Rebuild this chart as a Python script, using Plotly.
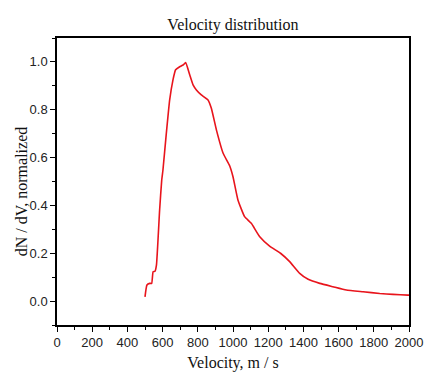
import plotly.graph_objects as go

velocity = [500, 511, 527, 538, 546, 557, 565, 583, 595, 602, 621, 640, 659, 674, 697, 716, 731,
            754, 773, 792, 820, 858, 877, 906, 944, 981, 1000, 1028, 1066, 1104, 1152, 1208, 1270,
            1322, 1379, 1427, 1493, 1568, 1644, 1739, 1834, 1909, 1994, 2000]
density = [0.018, 0.067, 0.074, 0.074, 0.123, 0.125, 0.15, 0.38, 0.506, 0.548, 0.70, 0.84, 0.925,
           0.967, 0.98, 0.987, 0.997, 0.946, 0.904, 0.883, 0.862, 0.841, 0.806, 0.715, 0.618,
           0.566, 0.52, 0.423, 0.353, 0.325, 0.269, 0.23, 0.20, 0.165, 0.116, 0.091, 0.074,
           0.06, 0.046, 0.039, 0.032, 0.028, 0.025, 0.025]

serif = "Liberation Serif, Times New Roman, serif"
sans = "Liberation Sans, Arial, sans-serif"

fig = go.Figure(go.Scatter(x=velocity, y=density, mode="lines",
                           line=dict(color="#e8141c", width=1.6, shape="spline", smoothing=0.4)))

axis_common = dict(showline=True, linecolor="black", linewidth=1.5, mirror=True,
                   ticks="outside", ticklen=5, tickwidth=1.2, tickcolor="black",
                   showgrid=False, zeroline=False, automargin=False,
                   tickfont=dict(family=sans, size=13, color="#222"))

fig.update_xaxes(range=[0, 2000], dtick=200, tick0=0,
                 minor=dict(dtick=100, ticks="outside", ticklen=3, tickcolor="black"),
                 title=dict(text="Velocity, m / s", font=dict(family=serif, size=16, color="#111"), standoff=8),
                 **axis_common)
fig.update_yaxes(range=[-0.1, 1.1], dtick=0.2, tick0=0, tickformat=".1f",
                 minor=dict(dtick=0.1, ticks="outside", ticklen=3, tickcolor="black"),
                 **axis_common)

fig.add_annotation(text="dN / dV, normalized", xref="paper", yref="paper",
                   x=-0.102, y=0.463, xanchor="center", yanchor="middle", textangle=-90,
                   showarrow=False, font=dict(family=serif, size=16, color="#111"))

fig.update_layout(
    width=425, height=372,
    margin=dict(l=57, r=16, t=38, b=47, autoexpand=False),
    paper_bgcolor="white", plot_bgcolor="white",
    showlegend=False,
    title=dict(text="Velocity distribution", x=0.548, xanchor="center", y=0.935, yanchor="middle",
               font=dict(family=serif, size=16, color="#111")),
)

fig.write_html("out.html", config={"displayModeBar": False},
               post_script="document.body.style.margin='0';document.body.style.overflow='hidden';")
